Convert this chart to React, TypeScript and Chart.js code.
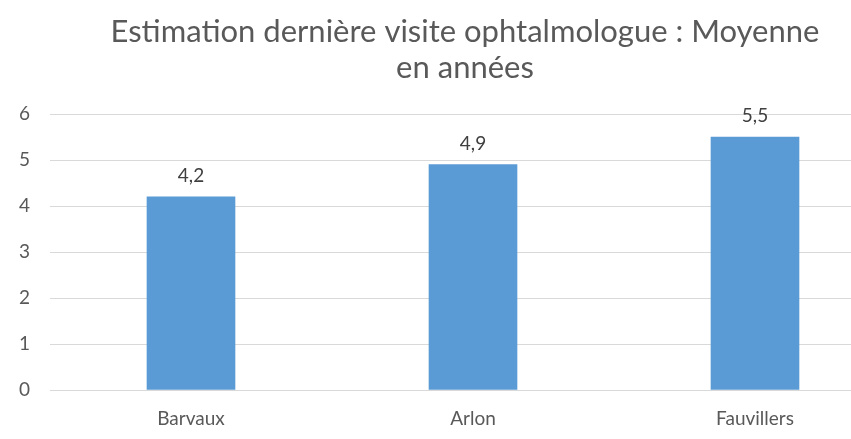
import React, { useEffect, useRef } from "react";
import { Chart, registerables } from "chart.js";

Chart.register(...registerables);

const categories = ["Barvaux", "Arlon", "Fauvillers"];
const values = [4.2, 4.9, 5.5];
const valueLabels = ["4,2", "4,9", "5,5"];
const titleLines = ["Estimation dernière visite ophtalmologue : Moyenne", "en années"];
const yTicks = [0, 1, 2, 3, 4, 5, 6];

const FONT = "Lato, 'Open Sans', sans-serif";

const dataLabelPlugin = {
  id: "dataLabels",
  afterDatasetsDraw(chart: any) {
    const ctx = chart.ctx;
    const meta = chart.getDatasetMeta(0);
    ctx.save();
    ctx.font = `19px ${FONT}`;
    ctx.fillStyle = "#404040";
    ctx.textAlign = "center";
    ctx.textBaseline = "middle";
    meta.data.forEach((bar: any, i: number) => {
      ctx.fillText(valueLabels[i], bar.x, bar.y - 21);
    });
    ctx.restore();
  },
};

const titlePlugin = {
  id: "centeredTitle",
  afterDraw(chart: any) {
    const ctx = chart.ctx;
    ctx.save();
    ctx.font = `31px ${FONT}`;
    ctx.fillStyle = "#595959";
    ctx.textAlign = "center";
    ctx.textBaseline = "middle";
    const cx = chart.width / 2;
    titleLines.forEach((line, i) => {
      ctx.fillText(line, cx, 32 + i * 36);
    });
    ctx.restore();
  },
};

export default function App() {
  const ref = useRef<HTMLCanvasElement | null>(null);
  useEffect(() => {
    if (!ref.current) return;
    const chart = new Chart(ref.current, {
      type: "bar",
      data: {
        labels: categories,
        datasets: [
          {
            data: values,
            backgroundColor: "#5b9bd5",
            barThickness: 88,
          },
        ],
      },
      options: {
        animation: false,
        responsive: false,
        maintainAspectRatio: false,
        layout: { padding: { left: 13, right: 34, top: 114, bottom: 9 } },
        plugins: {
          legend: { display: false },
          tooltip: { enabled: false },
          title: { display: false },
        },
        scales: {
          x: {
            grid: { display: false, drawTicks: false },
            border: { display: false },
            ticks: { color: "#595959", font: { family: FONT, size: 19 }, padding: 17 },
            afterFit: (scale: any) => {
              scale.height = 40;
            },
          },
          y: {
            min: 0,
            max: 6,
            afterBuildTicks: (scale: any) => {
              scale.ticks = yTicks.map((v) => ({ value: v }));
            },
            afterFit: (scale: any) => {
              scale.width = 37;
            },
            grid: { color: "#d9d9d9", lineWidth: 1, drawTicks: false },
            border: { display: false },
            ticks: { color: "#595959", font: { family: FONT, size: 19 }, padding: 20 },
          },
        },
      },
      plugins: [dataLabelPlugin, titlePlugin],
    });
    return () => chart.destroy();
  }, []);
  return (
    <div style={{ position: "fixed", left: 0, top: 0, width: 851, height: 439, overflow: "hidden", background: "#fff" }}>
      <canvas ref={ref} width={930} height={439} style={{ width: 930, height: 439, display: "block" }} />
    </div>
  );
}
